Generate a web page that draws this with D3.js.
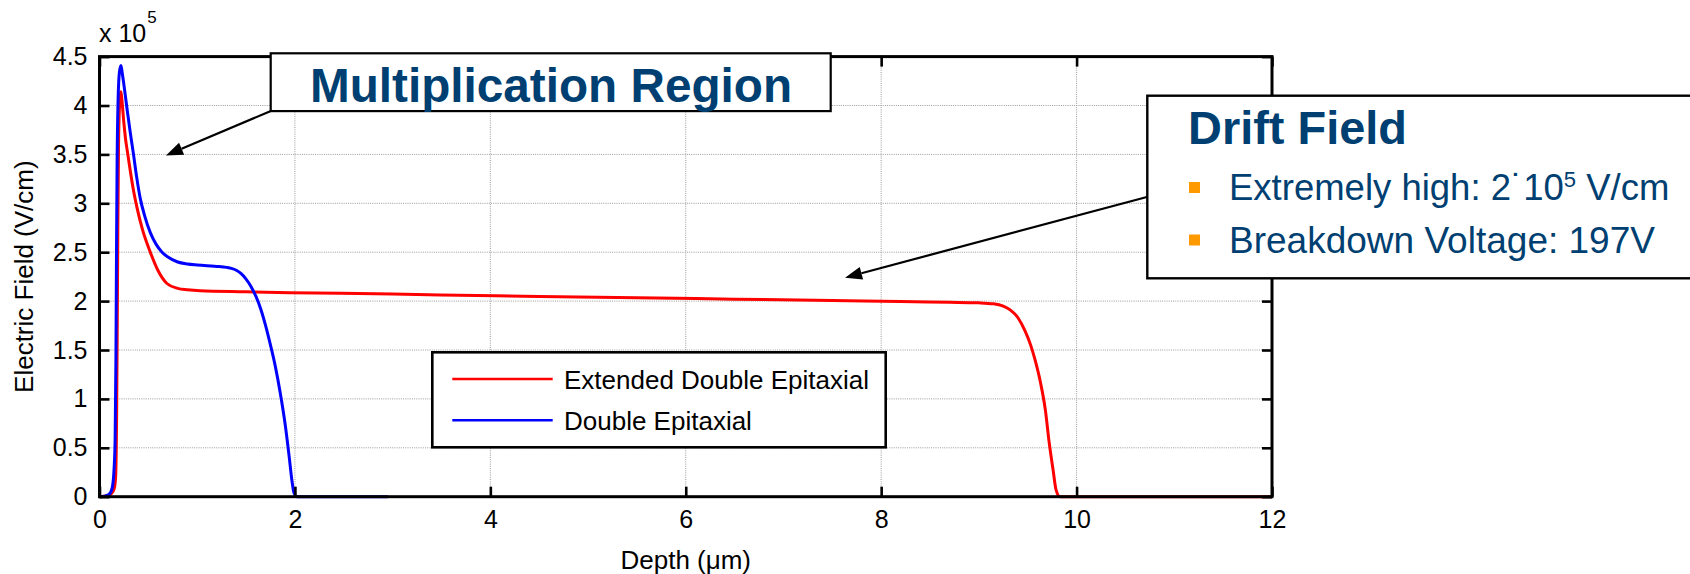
<!DOCTYPE html>
<html>
<head>
<meta charset="utf-8">
<script src="https://cdn.jsdelivr.net/npm/d3@7"></script>
<style>
  html, body { margin: 0; padding: 0; background: #ffffff; }
  svg { display: block; }
  text { font-family: Arial, "Liberation Sans", sans-serif; }
</style>
</head>
<body>
<svg id="chart" width="1690" height="574"></svg>
<script>
// ---------------- data (field in units of 1e5 V/cm, depth in µm) ----------------
const seriesNames = ["Extended Double Epitaxial", "Double Epitaxial"];
const seriesColors = ["#ff0000", "#0000ff"];

const depthRed = [0, 0.08, 0.12, 0.15, 0.165, 0.175, 0.182, 0.188, 0.195, 0.205, 0.213, 0.22, 0.232, 0.246, 0.265, 0.29, 0.32, 0.35, 0.385, 0.44, 0.52, 0.6, 0.69, 0.8, 0.9, 1.03, 1.5, 1.95, 3.0, 3.49, 4.5, 5.5, 6.5, 7.5, 8.2, 8.7, 9.0, 9.15, 9.25, 9.32, 9.4, 9.47, 9.53, 9.58, 9.63, 9.68, 9.72, 9.76, 9.79, 9.83, 12];
const fieldRed = [0, 0.01, 0.03, 0.08, 0.2, 0.8, 1.8, 2.8, 3.6, 4.0, 4.11, 4.14, 4.03, 3.86, 3.67, 3.5, 3.3, 3.12, 2.95, 2.73, 2.5, 2.31, 2.18, 2.13, 2.115, 2.105, 2.095, 2.086, 2.072, 2.062, 2.048, 2.034, 2.02, 2.005, 1.995, 1.988, 1.982, 1.972, 1.948, 1.91, 1.83, 1.70, 1.55, 1.38, 1.17, 0.89, 0.55, 0.27, 0.07, 0, 0];

const depthBlue = [0, 0.05, 0.1, 0.13, 0.15, 0.16, 0.168, 0.174, 0.18, 0.19, 0.205, 0.22, 0.233, 0.246, 0.28, 0.314, 0.348, 0.38, 0.417, 0.46, 0.52, 0.58, 0.64, 0.7, 0.8, 0.9, 1.0, 1.1, 1.2, 1.3, 1.35, 1.4, 1.45, 1.5, 1.55, 1.6, 1.65, 1.7, 1.75, 1.8, 1.85, 1.9, 1.94, 1.97, 1.99, 2.02, 2.95];
const fieldBlue = [0, 0.004, 0.025, 0.09, 0.3, 0.6, 1.4, 2.5, 3.4, 4.05, 4.35, 4.41, 4.33, 4.24, 3.98, 3.73, 3.5, 3.27, 3.05, 2.88, 2.7, 2.58, 2.5, 2.45, 2.40, 2.38, 2.37, 2.362, 2.355, 2.345, 2.335, 2.315, 2.28, 2.225, 2.15, 2.05, 1.92, 1.75, 1.55, 1.33, 1.06, 0.74, 0.42, 0.16, 0.04, 0, 0];

const xTicks = [0, 2, 4, 6, 8, 10, 12];
const xTickLabels = ["0", "2", "4", "6", "8", "10", "12"];
const yTicks = [0, 0.5, 1, 1.5, 2, 2.5, 3, 3.5, 4, 4.5];
const yTickLabels = ["0", "0.5", "1", "1.5", "2", "2.5", "3", "3.5", "4", "4.5"];

const xLabel = "Depth (\u03bcm)";
const yLabel = "Electric Field (V/cm)";
const multTitle = "Multiplication Region";
const driftTitle = "Drift Field";
const driftBullet2 = "Breakdown Voltage: 197V";

// ---------------- layout ----------------
const svg = d3.select("#chart");
const L = 99.5, R = 1272, T = 56.6, B = 496.7;
const x = d3.scaleLinear().domain([0, 12]).range([L, R]);
const y = d3.scaleLinear().domain([0, 4.5]).range([B, T]);

svg.append("rect").attr("width", 1690).attr("height", 574).attr("fill", "#fff");

// grid
const grid = svg.append("g");
grid.selectAll("line.vg").data(xTicks.slice(1, -1)).join("line")
  .attr("x1", d => x(d)).attr("x2", d => x(d)).attr("y1", T).attr("y2", B)
  .attr("stroke", "#9a9a9a").attr("stroke-width", 1).attr("stroke-dasharray", "1,1.2");
grid.selectAll("line.hg").data(yTicks.slice(1, -1)).join("line")
  .attr("y1", d => y(d)).attr("y2", d => y(d)).attr("x1", L).attr("x2", R)
  .attr("stroke", "#9a9a9a").attr("stroke-width", 1).attr("stroke-dasharray", "1,1.2");

// curves
const line = d3.line().x(d => x(d[0])).y(d => y(d[1])).curve(d3.curveMonotoneX);
const redPts = depthRed.map((d, i) => [d, fieldRed[i]]);
const bluePts = depthBlue.map((d, i) => [d, fieldBlue[i]]);
svg.append("path").attr("d", line(redPts)).attr("fill", "none")
  .attr("stroke", seriesColors[0]).attr("stroke-width", 3).attr("stroke-linejoin", "round");
svg.append("path").attr("d", line(bluePts)).attr("fill", "none")
  .attr("stroke", seriesColors[1]).attr("stroke-width", 3).attr("stroke-linejoin", "round");

// axes with inward ticks (all four sides)
const tickLen = 10;
const axB = d3.axisBottom(x).tickValues(xTicks).tickFormat((d, i) => xTickLabels[i]).tickSizeInner(-tickLen).tickSizeOuter(0).tickPadding(14);
const axT = d3.axisTop(x).tickValues(xTicks).tickFormat("").tickSizeInner(-tickLen).tickSizeOuter(0);
const axL = d3.axisLeft(y).tickValues(yTicks).tickFormat((d, i) => yTickLabels[i]).tickSizeInner(-tickLen).tickSizeOuter(0).tickPadding(12);
const axR = d3.axisRight(y).tickValues(yTicks).tickFormat("").tickSizeInner(-tickLen).tickSizeOuter(0);

function styleAxis(g) {
  g.select(".domain").remove();
  g.selectAll(".tick line").attr("stroke", "#000").attr("stroke-width", 2.6);
  g.selectAll(".tick text").attr("fill", "#000").attr("font-size", 25)
    .attr("font-family", "Arial, 'Liberation Sans', sans-serif");
}
svg.append("g").attr("transform", `translate(0,${B})`).call(axB).call(styleAxis);
svg.append("g").attr("transform", `translate(0,${T})`).call(axT).call(styleAxis);
svg.append("g").attr("transform", `translate(${L},0)`).call(axL).call(styleAxis);
svg.append("g").attr("transform", `translate(${R},0)`).call(axR).call(styleAxis);

// frame
svg.append("rect").attr("x", L).attr("y", T).attr("width", R - L).attr("height", B - T)
  .attr("fill", "none").attr("stroke", "#000").attr("stroke-width", 3);

// exponent
const expo = svg.append("text").attr("x", 99).attr("y", 41.5).attr("font-size", 25).attr("fill", "#000");
expo.append("tspan").text("x 10");
expo.append("tspan").attr("font-size", 17).attr("dx", 1).attr("dy", -19).text("5");

// axis labels
svg.append("text").attr("x", (L + R) / 2).attr("y", 569).attr("text-anchor", "middle")
  .attr("font-size", 26).attr("fill", "#000").text(xLabel);
svg.append("text").attr("transform", `translate(32.5,${(T + B) / 2}) rotate(-90)`)
  .attr("text-anchor", "middle").attr("font-size", 26).attr("fill", "#000").text(yLabel);

// legend
const lg = svg.append("g");
lg.append("rect").attr("x", 432.3).attr("y", 352.3).attr("width", 453.4).attr("height", 95)
  .attr("fill", "#fff").attr("stroke", "#000").attr("stroke-width", 2.6);
const legY = [379, 420.3];
const legBase = [388.5, 430];
seriesNames.forEach((name, i) => {
  lg.append("line").attr("x1", 452.3).attr("x2", 552.7).attr("y1", legY[i]).attr("y2", legY[i])
    .attr("stroke", seriesColors[i]).attr("stroke-width", 2.6);
  lg.append("text").attr("x", 564).attr("y", legBase[i]).attr("font-size", 26).attr("fill", "#000").text(name);
});

// annotations
const navy = "#003f71";
function arrow(x0, y0, x1, y1) {
  const g = svg.append("g");
  const ang = Math.atan2(y1 - y0, x1 - x0);
  const hl = 17, hw = 6.5;
  const bx = x1 - hl * Math.cos(ang), by = y1 - hl * Math.sin(ang);
  g.append("line").attr("x1", x0).attr("y1", y0).attr("x2", bx).attr("y2", by)
    .attr("stroke", "#000").attr("stroke-width", 2.2);
  const px = -Math.sin(ang) * hw, py = Math.cos(ang) * hw;
  g.append("polygon").attr("points", `${x1},${y1} ${bx + px},${by + py} ${bx - px},${by - py}`)
    .attr("fill", "#000");
}
// Multiplication Region arrow (tip in data coordinates)
arrow(272, 110.5, x(0.68), y(3.49));
// Drift field arrow
arrow(1160, 193.5, x(7.63), y(2.24));

// Multiplication Region box
svg.append("rect").attr("x", 270.7).attr("y", 53.3).attr("width", 560).attr("height", 57.8)
  .attr("fill", "#fff").attr("stroke", "#000").attr("stroke-width", 2.2);
svg.append("text").attr("x", 551).attr("y", 101.7).attr("text-anchor", "middle")
  .attr("font-size", 48).attr("font-weight", "bold").attr("fill", navy)
  .attr("textLength", 482).attr("lengthAdjust", "spacingAndGlyphs").text(multTitle);

// Drift Field box
svg.append("rect").attr("x", 1147.3).attr("y", 95.7).attr("width", 600).attr("height", 182.6)
  .attr("fill", "#fff").attr("stroke", "#000").attr("stroke-width", 2.4);
svg.append("text").attr("x", 1188).attr("y", 144).attr("font-size", 47).attr("font-weight", "bold")
  .attr("fill", navy).attr("textLength", 219).attr("lengthAdjust", "spacingAndGlyphs").text(driftTitle);
svg.append("rect").attr("x", 1189).attr("y", 182).attr("width", 11).attr("height", 11).attr("fill", "#ff9900");
svg.append("rect").attr("x", 1189).attr("y", 234.5).attr("width", 11).attr("height", 11).attr("fill", "#ff9900");
const b1 = svg.append("text").attr("x", 1229).attr("y", 200).attr("font-size", 36.5).attr("fill", navy);
b1.append("tspan").text("Extremely high: 2\u02d910");
b1.append("tspan").attr("font-size", 22).attr("dy", -13).text("5");
b1.append("tspan").attr("dy", 13).text(" V/cm");
svg.append("text").attr("x", 1229).attr("y", 253.3).attr("font-size", 36).attr("fill", navy)
  .attr("textLength", 426).attr("lengthAdjust", "spacingAndGlyphs").text(driftBullet2);
</script>
</body>
</html>
